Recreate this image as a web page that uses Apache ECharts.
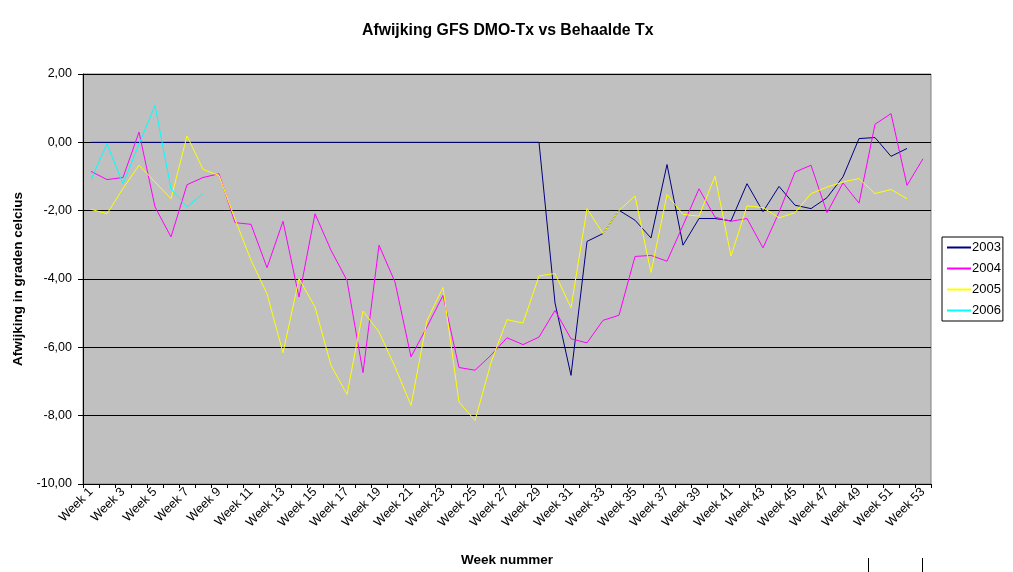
<!DOCTYPE html>
<html>
<head>
<meta charset="utf-8">
<script src="https://cdn.jsdelivr.net/npm/echarts@6/dist/echarts.min.js"></script>
<style>
  html, body { margin: 0; padding: 0; background: #fff; }
  #chart { width: 1013px; height: 572px; }
</style>
</head>
<body>
<div id="chart"></div>
<script>
// week labels 1..53
const weeks = [];
for (let i = 1; i <= 53; i++) weeks.push('Week ' + i);

const y2003 = [0, 0, 0, 0, 0, 0, 0, 0, 0, 0, 0, 0, 0, 0, 0, 0, 0, 0, 0, 0,
  0, 0, 0, 0, 0, 0, 0, 0, 0, -4.70, -6.82, -2.90, -2.67, -1.99, -2.28, -2.80, -0.65, -3.01, -2.23, -2.23,
  -2.30, -1.21, -2.03, -1.29, -1.84, -1.94, -1.62, -1.01, 0.11, 0.14, -0.41, -0.18, null];

const y2004 = [-0.85, -1.09, -1.03, 0.30, -1.89, -2.77, -1.24, -1.03, -0.92, -2.35,
  -2.40, -3.67, -2.31, -4.53, -2.09, -3.16, -4.04, -6.74, -3.01, -4.09,
  -6.28, -5.40, -4.48, -6.59, -6.67, -6.23, -5.72, -5.92, -5.70, -4.92,
  -5.75, -5.87, -5.21, -5.06, -3.34, -3.31, -3.48, -2.43, -1.36, -2.19,
  -2.31, -2.23, -3.09, -2.05, -0.87, -0.67, -2.06, -1.19, -1.78, 0.53,
  0.84, -1.26, -0.48];

const y2005 = [-1.96, -2.09, -1.35, -0.67, -1.16, -1.65, 0.19, -0.79, -0.97, -2.25,
  -3.45, -4.43, -6.16, -3.99, -4.82, -6.53, -7.38, -4.94, -5.55, -6.57,
  -7.70, -5.21, -4.25, -7.60, -8.14, -6.45, -5.19, -5.29, -3.91, -3.84,
  -4.84, -1.94, -2.67, -1.99, -1.57, -3.81, -1.53, -2.11, -2.16, -0.99,
  -3.33, -1.86, -1.91, -2.21, -2.06, -1.50, -1.31, -1.16, -1.06, -1.50,
  -1.38, -1.65, null];

const y2006 = [-1.09, -0.04, -1.21, -0.05, 1.08, -1.36, -1.89, -1.50];

const seriesNames = ['2003', '2004', '2005', '2006'];
const seriesColors = ['#000080', '#FF00FF', '#FFFF00', '#00FFFF'];
const seriesData = [y2003, y2004, y2005, y2006];

const font = 'Arial, "Liberation Sans", sans-serif';

let chart = echarts.init(document.getElementById('chart'));

chart.setOption({
  animation: false,
  backgroundColor: '#fff',
  title: {
    text: 'Afwijking GFS DMO-Tx vs Behaalde Tx',
    left: 357,
    top: 18,
    textStyle: { fontFamily: font, fontSize: 15.8, fontWeight: 'bold', color: '#000' }
  },
  legend: {
    orient: 'vertical',
    left: 942,
    top: 237,
    padding: [4, 2, 4, 5],
    itemGap: 8,
    itemWidth: 24,
    itemHeight: 2,
    icon: 'rect',
    borderColor: '#000',
    borderWidth: 1,
    backgroundColor: '#fff',
    textStyle: { fontFamily: font, fontSize: 13, color: '#000', padding: [0, 0, 0, -4] },
    data: seriesNames
  },
  grid: {
    left: 83,
    right: 82,
    top: 74,
    bottom: 88,
    show: true,
    backgroundColor: '#C0C0C0',
    borderColor: '#808080',
    borderWidth: 1
  },
  xAxis: {
    type: 'category',
    data: weeks,
    boundaryGap: true,
    name: 'Week nummer',
    nameLocation: 'middle',
    nameGap: 69,
    nameTextStyle: { fontFamily: font, fontSize: 13.5, fontWeight: 'bold', color: '#000' },
    axisLine: { onZero: false, lineStyle: { color: '#000', width: 1 } },
    axisTick: { show: true, interval: 0, length: 4, lineStyle: { color: '#000' } },
    axisLabel: {
      interval: 1,
      rotate: 45,
      margin: 6,
      fontFamily: font,
      fontSize: 12.5,
      color: '#000'
    },
    splitLine: { show: false }
  },
  yAxis: {
    type: 'value',
    min: -10,
    max: 2,
    interval: 2,
    name: 'Afwijking in graden celcius',
    nameLocation: 'middle',
    nameGap: 56,
    nameTextStyle: { fontFamily: font, fontSize: 13.5, fontWeight: 'bold', color: '#000' },
    axisLine: { show: true, lineStyle: { color: '#000', width: 1 } },
    axisTick: { show: true, length: 5, lineStyle: { color: '#000' } },
    axisLabel: {
      margin: 11,
      fontFamily: font,
      fontSize: 12.5,
      color: '#000',
      formatter: function (v) { return v.toFixed(2).replace('.', ','); }
    },
    splitLine: {
      show: true,
      lineStyle: { color: '#000', width: 1 }
    }
  },
  graphic: [
    { type: 'line', shape: { x1: 868.5, y1: 558, x2: 868.5, y2: 572 }, style: { stroke: '#000', lineWidth: 1 } },
    { type: 'line', shape: { x1: 922.5, y1: 558, x2: 922.5, y2: 572 }, style: { stroke: '#000', lineWidth: 1 } }
  ],
  series: seriesNames.map(function (name, i) {
    return {
      name: name,
      type: 'line',
      data: seriesData[i],
      symbol: 'none',
      connectNulls: false,
      itemStyle: { color: seriesColors[i] },
      lineStyle: { color: seriesColors[i], width: 1 }
    };
  })
});
</script>
</body>
</html>
